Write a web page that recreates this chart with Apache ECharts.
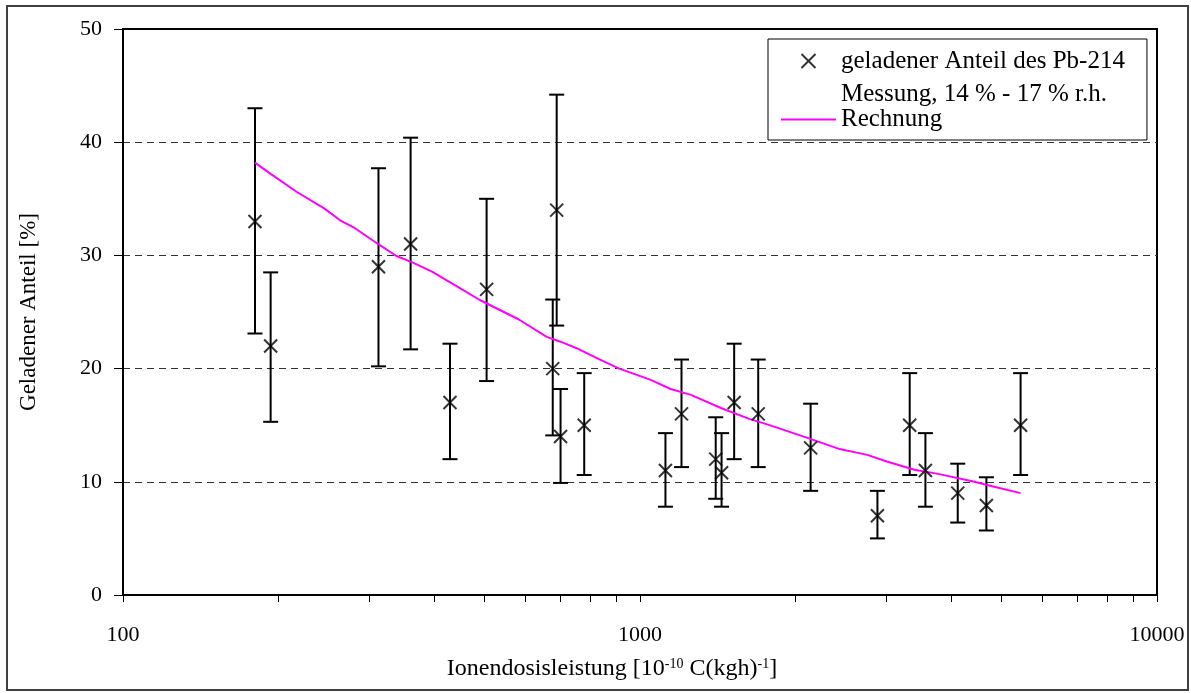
<!DOCTYPE html>
<html>
<head>
<meta charset="utf-8">
<script src="https://cdn.jsdelivr.net/npm/echarts@6/dist/echarts.min.js"></script>
<style>
html,body{margin:0;padding:0;background:#fff;}
#chart{width:1191px;height:693px;}
</style>
</head>
<body>
<div id="chart"></div>
<script>
// Measured points: Ionendosisleistung (x), geladener Anteil [%] (y), error bar low/high
const measX    = [180, 193, 312, 360, 429, 505, 678, 690, 702, 780, 1120, 1203, 1401, 1438, 1521, 1693, 2138, 2879, 3324, 3565, 4117, 4677, 5447];
const measY    = [33, 22, 29, 31, 17, 27, 20, 34, 14, 15, 11, 16, 12, 10.8, 17, 16, 13, 7, 15, 11, 9, 7.9, 15];
const measLow  = [23.1, 15.3, 20.2, 21.7, 12.0, 18.9, 14.1, 23.8, 9.9, 10.6, 7.8, 11.3, 8.5, 7.8, 12.0, 11.3, 9.2, 5.0, 10.6, 7.8, 6.4, 5.7, 10.6];
const measHigh = [43.0, 28.5, 37.7, 40.4, 22.2, 35.0, 26.1, 44.2, 18.2, 19.6, 14.3, 20.8, 15.7, 14.3, 22.2, 20.8, 16.9, 9.2, 19.6, 14.3, 11.6, 10.4, 19.6];

// Calculated curve (Rechnung)
const calcX = [180, 193, 217, 245, 263, 281, 314, 338, 362, 396, 445, 490, 582, 660, 700, 754, 837, 912, 1049, 1146, 1251, 1438, 1627, 1775, 2115, 2433, 2751, 3002, 3395, 3771, 4415, 4819, 5447];
const calcY = [38.2, 37.2, 35.6, 34.15, 33.1, 32.4, 30.9, 29.95, 29.4, 28.56, 27.2, 26.06, 24.36, 22.8, 22.4, 21.8, 20.8, 20.0, 19.0, 18.2, 17.7, 16.5, 15.56, 15.03, 13.86, 12.89, 12.38, 11.79, 11.06, 10.7, 10.03, 9.59, 9.0];

// Axis ticks
const xTickValues  = [100,200,300,400,500,600,700,800,900,1000,2000,3000,4000,5000,6000,7000,8000,9000,10000];
const xLabelValues = [100, 1000, 10000];
const yTicks = {min: 0, max: 50, interval: 10};

// Texts
const nameMeas = 'geladener Anteil des Pb-214';
const nameMeas2 = 'Messung, 14 % - 17 % r.h.';
const nameCalc = 'Rechnung';
const xTitle = 'Ionendosisleistung [10{sup|-10} C(kgh){sup|-1}]';
const yTitle = 'Geladener Anteil [%]';

const FONT = "'Liberation Serif', 'Times New Roman', serif";

const scatterData = measX.map((x, i) => [x, measY[i]]);
const errData = measX.map((x, i) => [x, measLow[i], measHigh[i]]);
const lineData = calcX.map((x, i) => [x, calcY[i]]);

const chart = echarts.init(document.getElementById('chart'), null, {renderer: 'canvas'});

chart.setOption({
  backgroundColor: '#fff',
  animation: false,
  textStyle: {fontFamily: FONT, color: '#000'},
  grid: {left: 123, right: 34, top: 29, bottom: 98, show: true, borderColor: '#000', borderWidth: 2, backgroundColor: 'transparent'},
  graphic: [{
    type: 'rect',
    shape: {x: 7, y: 6, width: 1181, height: 684},
    style: {fill: 'none', stroke: '#404040', lineWidth: 2},
    silent: true, z: -1
  }],
  legend: {
    orient: 'vertical',
    left: 768, top: 39,
    padding: [1, 22, 8, 12],
    itemGap: 0,
    itemWidth: 55,
    itemHeight: 14,
    backgroundColor: '#fff',
    borderColor: '#000',
    borderWidth: 1,
    selectedMode: false,
    textStyle: {fontFamily: FONT, fontSize: 25, color: '#000'},
    data: [
      {name: nameMeas, textStyle: {lineHeight: 42}},
      {name: nameMeas2, icon: 'none', textStyle: {lineHeight: 21}},
      {name: nameCalc, itemStyle: {opacity: 0}, textStyle: {lineHeight: 21}}
    ]
  },
  xAxis: {
    type: 'log', logBase: 10, min: 100, max: 10000,
    name: xTitle, nameLocation: 'middle', nameGap: 62,
    nameTextStyle: {fontFamily: FONT, fontSize: 24, color: '#000', padding: [0, 56, 0, 0],
      rich: {sup: {fontFamily: FONT, fontSize: 14, verticalAlign: 'top', padding: [0, 0, 10, 0]}}},
    axisLine: {show: true, lineStyle: {color: '#000', width: 2}},
    axisTick: {show: true, inside: false, length: 7, lineStyle: {color: '#000', width: 1}, customValues: xTickValues},
    axisLabel: {fontFamily: FONT, fontSize: 22, color: '#000', margin: 29, customValues: xLabelValues, formatter: v => String(Math.round(v))},
    splitLine: {show: false},
    minorTick: {show: false}
  },
  yAxis: {
    type: 'value', min: yTicks.min, max: yTicks.max, interval: yTicks.interval,
    name: yTitle, nameLocation: 'middle', nameGap: 83, nameRotate: 90,
    nameTextStyle: {fontFamily: FONT, fontSize: 23, color: '#000'},
    axisLine: {show: true, lineStyle: {color: '#000', width: 2}},
    axisTick: {show: true, inside: false, length: 9, lineStyle: {color: '#000', width: 1}},
    axisLabel: {fontFamily: FONT, fontSize: 22, color: '#000', margin: 21},
    splitLine: {show: true, showMinLine: false, showMaxLine: false, lineStyle: {color: '#333', width: 1, type: [7, 5]}}
  },
  series: [
    {
      name: 'err', type: 'custom',
      data: errData,
      encode: {x: 0, y: [1, 2]},
      z: 3,
      silent: true,
      renderItem: function (params, api) {
        const x = api.value(0);
        const lo = api.coord([x, api.value(1)]);
        const hi = api.coord([x, api.value(2)]);
        const hw = 7.5;
        const st = {stroke: '#000', lineWidth: 2};
        return {
          type: 'group',
          children: [
            {type: 'line', shape: {x1: lo[0], y1: lo[1], x2: hi[0], y2: hi[1]}, style: st},
            {type: 'line', shape: {x1: lo[0] - hw, y1: lo[1], x2: lo[0] + hw, y2: lo[1]}, style: st},
            {type: 'line', shape: {x1: hi[0] - hw, y1: hi[1], x2: hi[0] + hw, y2: hi[1]}, style: st}
          ]
        };
      }
    },
    {
      name: nameCalc, type: 'line',
      data: lineData,
      symbol: 'none',
      smooth: false,
      z: 4,
      lineStyle: {color: '#ff00ff', width: 2},
      itemStyle: {color: '#ff00ff'}
    },
    {
      name: nameMeas, type: 'scatter',
      data: scatterData,
      symbol: 'path://M0,0L10,10M10,0L0,10',
      symbolSize: 13,
      symbolKeepAspect: true,
      z: 5,
      itemStyle: {color: 'transparent', borderColor: '#000', borderWidth: 2}
    },
    {
      name: nameMeas2, type: 'scatter',
      data: [],
      itemStyle: {color: 'transparent'}
    }
  ]
});
</script>
</body>
</html>
